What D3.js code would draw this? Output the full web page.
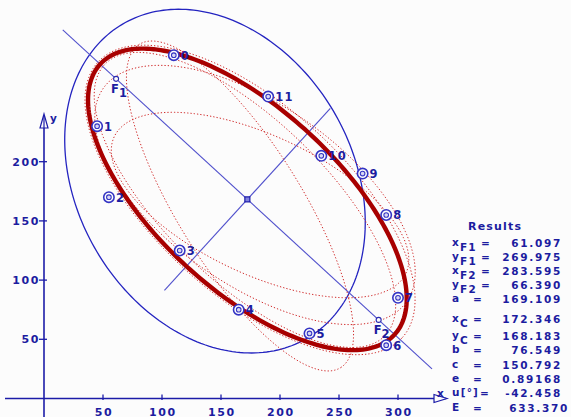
<!DOCTYPE html>
<html>
<head>
<meta charset="utf-8">
<script src="https://cdn.jsdelivr.net/npm/d3@7"></script>
<style>
  body { margin: 0; background: #fcfcfc; }
  svg { display: block; }
  text { font-family: "DejaVu Sans", sans-serif; font-weight: bold; fill: #1c1ca0; }
</style>
</head>
<body>
<svg id="chart" width="571" height="417"></svg>
<script>
// ---- data ----------------------------------------------------------------
const xTicks = [50, 100, 150, 200, 250, 300];
const yTicks = [50, 100, 150, 200];

// measured points
const pointIds = ["0", "1", "2", "3", "4", "5", "6", "7", "8", "9", "10", "11"];
const pointX = [110, 45, 55, 115, 165, 225, 290, 300, 290, 270, 235, 190];
const pointY = [290, 230, 170, 125, 75, 55, 45, 85, 155, 190, 205, 255];

// final fit
const xF1 = 61.097, yF1 = 269.975, xF2 = 283.595, yF2 = 66.390;
const fitA = 169.109, xC = 172.346, yC = 168.183, fitB = 76.549;
const fitC = 150.792, fitE = 0.89168, fitU = -42.458, fitErr = 633.370;

// intermediate iterations (centre, semi-axes, rotation in degrees)
const iterCx = [174.6, 170.3, 166.1, 183.1, 178.8];
const iterCy = [167.7, 167.7, 162.6, 163.4, 171.9];
const iterA = [173.7, 165.0, 161.0, 136.4, 157.0];
const iterB = [80.5, 68.0, 52.5, 58.5, 76.0];
const iterU = [-42, -44, -58, -25, -35];

// starting ellipse
const startCx = 144.9, startCy = 183.6, startA = 154, startB = 116.5, startU = -59.3;

// results panel
const resultNames = ["x", "y", "x", "y", "a", "x", "y", "b", "c", "e", "u[°]", "E"];
const resultSubs = ["F1", "F1", "F2", "F2", "", "C", "C", "", "", "", "", ""];
const resultValues = [xF1.toFixed(3), yF1.toFixed(3), xF2.toFixed(3), yF2.toFixed(3),
  fitA.toFixed(3), xC.toFixed(3), yC.toFixed(3), fitB.toFixed(3), fitC.toFixed(3),
  fitE.toFixed(5), fitU.toFixed(3), fitErr.toFixed(3)];

// ---- scales --------------------------------------------------------------
const svg = d3.select("#chart");
const x = d3.scaleLinear().domain([0, 300]).range([44, 398]);
const y = d3.scaleLinear().domain([0, 200]).range([398.5, 161.7]);

const axisBlue = "#1c1ca8";

function ellipsePath(cx, cy, a, b, uDeg, n = 240) {
  const u = uDeg * Math.PI / 180;
  const pts = d3.range(n).map(i => {
    const t = 2 * Math.PI * i / n;
    return [cx + a * Math.cos(t) * Math.cos(u) - b * Math.sin(t) * Math.sin(u),
            cy + a * Math.cos(t) * Math.sin(u) + b * Math.sin(t) * Math.cos(u)];
  });
  return d3.line().x(d => x(d[0])).y(d => y(d[1])).curve(d3.curveLinearClosed)(pts);
}

// ---- axes ----------------------------------------------------------------
const gx = svg.append("g").attr("transform", `translate(0,${y(0)})`);
gx.append("line").attr("x1", 5).attr("x2", 446).attr("stroke", axisBlue).attr("stroke-width", 1.6);
gx.append("path").attr("d", "M434,-4L447,0L434,4Z").attr("fill", "#fcfcfc").attr("stroke", axisBlue).attr("stroke-width", 1.2);
gx.selectAll(".xt").data(xTicks).enter().append("line")
  .attr("x1", d => x(d)).attr("x2", d => x(d)).attr("y1", -4).attr("y2", 1.5)
  .attr("stroke", axisBlue).attr("stroke-width", 1.3);
gx.selectAll(".xl").data(xTicks).enter().append("text")
  .attr("x", d => x(d) + 1).attr("y", 17).attr("text-anchor", "middle")
  .attr("font-size", 11).attr("letter-spacing", 1.6).text(d => d);
svg.append("text").attr("x", 437).attr("y", 397).attr("font-size", 10.5).text("x");

const gy = svg.append("g").attr("transform", `translate(${x(0)},0)`);
gy.append("line").attr("y1", 417).attr("y2", 115).attr("stroke", axisBlue).attr("stroke-width", 1.6);
gy.append("path").attr("d", "M0,114L-4,128L4,128Z").attr("fill", "#fcfcfc").attr("stroke", axisBlue).attr("stroke-width", 1.2);
gy.append("line").attr("y1", 128).attr("y2", 115).attr("stroke", axisBlue).attr("stroke-width", 1.2);
gy.selectAll(".yt").data(yTicks).enter().append("line")
  .attr("y1", d => y(d)).attr("y2", d => y(d)).attr("x1", -5).attr("x2", 3)
  .attr("stroke", axisBlue).attr("stroke-width", 1.3);
gy.selectAll(".yl").data(yTicks).enter().append("text")
  .attr("x", -4).attr("y", d => y(d) + 4).attr("text-anchor", "end")
  .attr("font-size", 11).attr("letter-spacing", 1.6).text(d => d);
svg.append("text").attr("x", 50).attr("y", 122).attr("font-size", 10.5).text("y");

// ---- starting ellipse and principal axes ----------------------------------
svg.append("path").attr("d", ellipsePath(startCx, startCy, startA, startB, startU))
  .attr("fill", "none").attr("stroke", "#2424c0").attr("stroke-width", 1.3);

const ur = fitU * Math.PI / 180;
const majorLen = 1.254 * fitA, minorLen = 1.36 * fitB;
svg.append("line")
  .attr("x1", x(xC - majorLen * Math.cos(ur))).attr("y1", y(yC - majorLen * Math.sin(ur)))
  .attr("x2", x(xC + majorLen * Math.cos(ur))).attr("y2", y(yC + majorLen * Math.sin(ur)))
  .attr("stroke", "#5050cc").attr("stroke-width", 1.1);
svg.append("line")
  .attr("x1", x(xC + minorLen * Math.sin(ur))).attr("y1", y(yC - minorLen * Math.cos(ur)))
  .attr("x2", x(xC - minorLen * Math.sin(ur))).attr("y2", y(yC + minorLen * Math.cos(ur)))
  .attr("stroke", "#5050cc").attr("stroke-width", 1.1);

// ---- iterations -----------------------------------------------------------
svg.selectAll(".iter").data(d3.range(iterCx.length)).enter().append("path")
  .attr("d", i => ellipsePath(iterCx[i], iterCy[i], iterA[i], iterB[i], iterU[i]))
  .attr("fill", "none").attr("stroke", "#d02828").attr("stroke-width", 1)
  .attr("stroke-dasharray", "1.3,2");

// ---- final ellipse --------------------------------------------------------
svg.append("path").attr("d", ellipsePath(xC, yC, fitA, fitB, fitU))
  .attr("fill", "none").attr("stroke", "#a80000").attr("stroke-width", 4.4);

// centre and foci
svg.append("rect").attr("x", x(xC) - 2.5).attr("y", y(yC) - 2.5).attr("width", 5).attr("height", 5)
  .attr("fill", "#8080e0").attr("stroke", "#1c1ca8").attr("stroke-width", 1.2);
const foci = [[xF1, yF1, "1"], [xF2, yF2, "2"]];
foci.forEach(f => {
  svg.append("circle").attr("cx", x(f[0])).attr("cy", y(f[1])).attr("r", 2.5)
    .attr("fill", "#fcfcfc").attr("stroke", "#2a2ab0").attr("stroke-width", 1.1);
  const t = svg.append("text").attr("x", x(f[0]) - 5).attr("y", y(f[1]) + 14).attr("font-size", 11.5);
  t.append("tspan").text("F");
  t.append("tspan").attr("dy", 4).text(f[2]);
});

// ---- points ---------------------------------------------------------------
const pts = svg.selectAll(".pt").data(pointIds).enter().append("g")
  .attr("transform", (d, i) => `translate(${x(pointX[i])},${y(pointY[i])})`);
pts.append("circle").attr("r", 5.2).attr("fill", "#fcfcfc").attr("stroke", "#3434c4").attr("stroke-width", 1.6);
pts.append("circle").attr("r", 2.3).attr("fill", "#d8d8f4").attr("stroke", "#3434c4").attr("stroke-width", 1.1);
pts.append("text").attr("x", 7).attr("y", 4.5).attr("font-size", 11.5).attr("letter-spacing", 1.4)
  .text(d => d);

// ---- results panel --------------------------------------------------------
svg.append("text").attr("x", 468).attr("y", 230).attr("font-size", 11).attr("letter-spacing", 1.2).text("Results");
const rowBase = [247, 261, 275, 289, 303, 323, 340, 354, 369, 383, 397, 412];
const eqX = [481, 481, 481, 481, 473, 473, 473, 473, 473, 473, 480, 473];
resultNames.forEach((nm, i) => {
  const t = svg.append("text").attr("x", 452).attr("y", rowBase[i] - 1).attr("font-size", 10.5).attr("letter-spacing", 1.2);
  t.append("tspan").text(nm);
  if (resultSubs[i]) t.append("tspan").attr("dy", 5).text(resultSubs[i]);
  svg.append("text").attr("x", eqX[i]).attr("y", rowBase[i]).attr("font-size", 10.5).text("=");
  svg.append("text").attr("x", i === 11 ? 569 : 562).attr("y", rowBase[i]).attr("text-anchor", "end")
    .attr("font-size", 10.5).attr("letter-spacing", 1.7).text(resultValues[i]);
});
</script>
</body>
</html>
